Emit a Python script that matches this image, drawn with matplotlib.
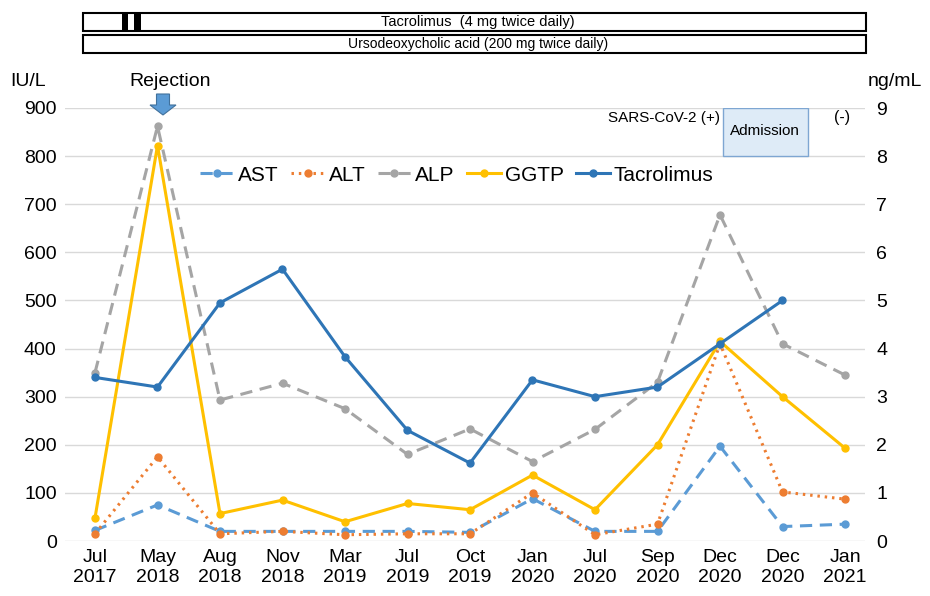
import matplotlib
matplotlib.use("Agg")
import matplotlib.pyplot as plt
from matplotlib.patches import Rectangle, FancyArrow

plt.rcParams['font.family'] = ['Liberation Sans', 'DejaVu Sans']

months = ["Jul", "May", "Aug", "Nov", "Mar", "Jul", "Oct", "Jan", "Jul", "Sep", "Dec", "Dec", "Jan"]
years = ["2017", "2018", "2018", "2018", "2019", "2019", "2019", "2020", "2020", "2020", "2020", "2020", "2021"]
ast = [22, 75, 20, 20, 20, 20, 18, 88, 20, 20, 197, 30, 35]
alt = [15, 175, 15, 20, 13, 15, 15, 100, 13, 35, 410, 102, 87]
alp = [350, 862, 293, 328, 275, 180, 233, 165, 232, 330, 678, 410, 345]
ggtp = [48, 822, 57, 85, 40, 78, 65, 137, 65, 200, 415, 300, 193]
tac = [3.4, 3.2, 4.95, 5.65, 3.83, 2.3, 1.62, 3.35, 3.0, 3.2, 4.1, 5.0]
left_ticks = [0, 100, 200, 300, 400, 500, 600, 700, 800, 900]
right_ticks = [0, 1, 2, 3, 4, 5, 6, 7, 8, 9]

fig = plt.figure(figsize=(9.3, 5.96), dpi=100)
ax = fig.add_axes([65/930, 1-541/596, 800/930, 433/596])
ax2 = ax.twinx()

x = list(range(len(months)))
lw = 2.2
ms = 5
l1, = ax.plot(x, ast, color="#5B9BD5", ls=(0, (4, 2.5)), lw=lw, marker='o', ms=ms, label="AST")
l2, = ax.plot(x, alt, color="#ED7D31", ls=(0, (0.8, 1.6)), lw=lw, marker='o', ms=ms, label="ALT")
l3, = ax.plot(x, alp, color="#A5A5A5", ls=(0, (4, 2.5)), lw=lw, marker='o', ms=ms, label="ALP")
l4, = ax.plot(x, ggtp, color="#FFC000", ls='-', lw=lw, marker='o', ms=ms, label="GGTP")
l5, = ax2.plot(x[:len(tac)], tac, color="#2E75B6", ls='-', lw=lw, marker='o', ms=ms, label="Tacrolimus")

ax.set_xlim(-0.48, 12.32)
ax.set_ylim(0, 900)
ax2.set_ylim(0, 9)
ax.set_yticks(left_ticks)
ax2.set_yticks(right_ticks)
ax.set_xticks(x)
ax.set_xticklabels([f"{m}\n{y}" for m, y in zip(months, years)], fontsize=14)
ax.tick_params(axis='y', labelsize=14, length=0, pad=6)
ax2.tick_params(axis='y', labelsize=14, length=0, pad=8)
ax.tick_params(axis='x', length=0, pad=6)
ax.grid(axis='y', color="#D9D9D9", lw=1)
for a in (ax, ax2):
    for s in a.spines.values():
        s.set_visible(False)
ax.set_axisbelow(True)

leg = ax.legend(handles=[l1, l2, l3, l4, l5], loc='upper center', bbox_to_anchor=(0.49, 0.91),
                ncol=5, frameon=False, fontsize=15, handlelength=1.6, columnspacing=0.6,
                handletextpad=0.2)

# Axis unit labels
fig.text(10/930, 1-81/596, "IU/L", fontsize=14, va='center', ha='left')
fig.text(868/930, 1-81/596, "ng/mL", fontsize=14, va='center', ha='left')
fig.text(170/930, 1-81/596, "Rejection", fontsize=14, va='center', ha='center')

# Rejection arrow
fig.patches.append(FancyArrow(163/930, 1-94/596, 0, -21/596, width=13/930, head_width=26/930,
                              head_length=10/596, length_includes_head=True,
                              transform=fig.transFigure, color="#5B9BD5", ec="#41719C", lw=0.8))

# Admission box
ax.add_patch(Rectangle((10.05, 800), 1.35, 100, facecolor="#DEEBF7", edgecolor="#7EA6D2", lw=1, zorder=5))
ax.text(10.72, 852, "Admission", fontsize=11, ha='center', va='center', zorder=6)
ax.text(10.0, 880, "SARS-CoV-2 (+)", fontsize=11, ha='right', va='center')
ax.text(11.96, 880, "(-)", fontsize=11.5, ha='center', va='center')

# Drug bars
fig.patches.append(Rectangle((83/930, 1-31/596), 783/930, 18/596, transform=fig.transFigure,
                             facecolor='white', edgecolor='black', lw=1.5))
fig.patches.append(Rectangle((122/930, 1-31/596), 6/930, 18/596, transform=fig.transFigure,
                             facecolor='black', edgecolor='black', lw=0))
fig.patches.append(Rectangle((134/930, 1-31/596), 7/930, 18/596, transform=fig.transFigure,
                             facecolor='black', edgecolor='black', lw=0))
fig.text(478/930, 1-22/596, "Tacrolimus  (4 mg twice daily)", fontsize=10.5, ha='center', va='center')
fig.patches.append(Rectangle((83/930, 1-53/596), 783/930, 18/596, transform=fig.transFigure,
                             facecolor='white', edgecolor='black', lw=1.5))
fig.text(478/930, 1-44/596, "Ursodeoxycholic acid (200 mg twice daily)", fontsize=10, ha='center', va='center')

fig.savefig("out.png", dpi=100)
